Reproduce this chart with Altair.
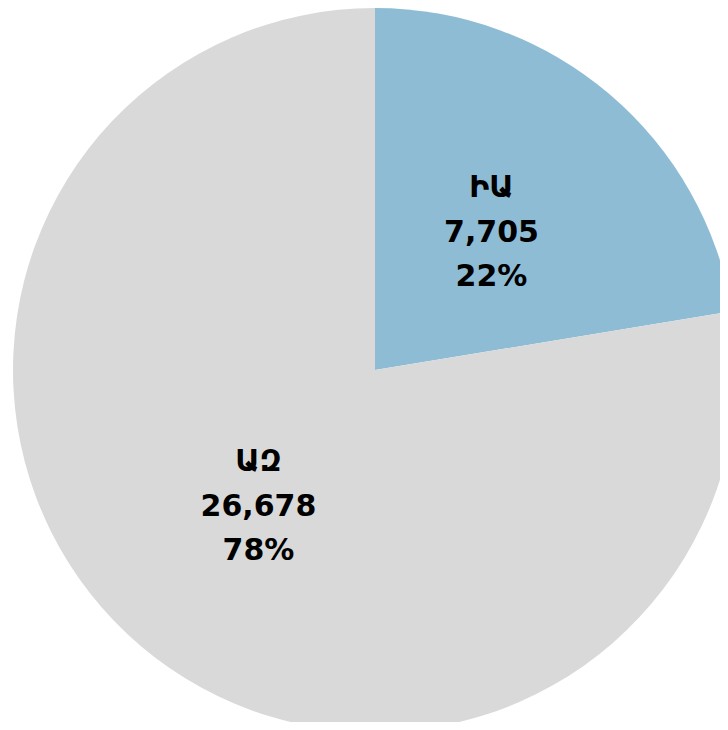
import altair as alt
import pandas as pd

labels = ["ԻԱ", "ԱԶ"]
values = [7705, 26678]
orders = [1, 2]
colors = ["#8FBCD5", "#D9D9D9"]

df = pd.DataFrame({"label": labels, "value": values, "order": orders})

CX, CY, R, LR = 367, 362, 362, 180

base = alt.Chart(df).transform_joinaggregate(
    total="sum(value)"
).transform_calculate(
    pct="datum.value / datum.total"
).encode(
    theta=alt.Theta("value:Q", stack=True),
    order=alt.Order("order:Q"),
    x=alt.value(CX),
    y=alt.value(CY),
)

arc = base.mark_arc(radius=R).encode(
    color=alt.Color("label:N", scale=alt.Scale(domain=labels, range=colors), legend=None)
)

txt_kw = dict(radius=LR, fontSize=30, fontWeight="bold", font="DejaVu Sans", color="#000000",
              align="center", baseline="middle")
t1 = base.mark_text(dy=-45, **txt_kw).encode(text="label:N")
t2 = base.mark_text(dy=0, **txt_kw).encode(text=alt.Text("value:Q", format=",d"))
t3 = base.mark_text(dy=44, **txt_kw).encode(text=alt.Text("pct:Q", format=".0%"))

chart = alt.layer(arc, t1, t2, t3).properties(
    width=712, height=714, padding=0, autosize=alt.AutoSizeParams(type="none")
).configure_view(stroke=None)

chart.save("out.html", embed_options={"renderer": "svg", "actions": False})
